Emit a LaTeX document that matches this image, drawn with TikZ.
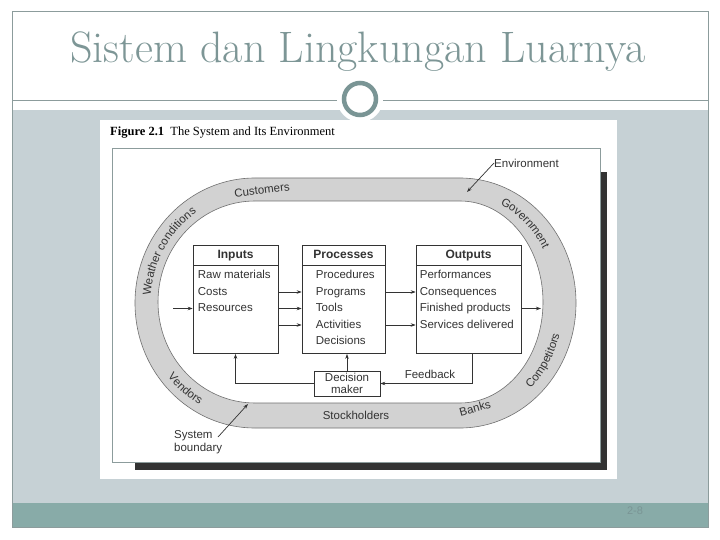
\documentclass[tikz,border=0pt]{standalone}
\usepackage{fontspec}
\usepackage{xcolor}
\usepackage{tikz}
\usetikzlibrary{arrows.meta, positioning, calc, decorations.text}
\newfontfamily\figsans{Liberation Sans}
\newfontfamily\figserif{Liberation Serif}
\definecolor{titlegray}{HTML}{7D9696}
\definecolor{framegray}{HTML}{8C9C9C}
\definecolor{slidegray}{HTML}{C6D1D5}
\definecolor{slideteal}{HTML}{88ABA8}
\definecolor{ringteal}{HTML}{7A9595}
\definecolor{ringfill}{HTML}{D2D2D2}
\definecolor{ink}{HTML}{333333}
\newcommand{\lblfont}{\figsans\fontsize{11.5}{13}\selectfont}

\begin{document}
\begin{tikzpicture}[x=1pt, y=-1pt,
  hdr/.style={draw=ink, line width=0.6pt, fill=white, minimum height=20pt,
              text height=9pt, text depth=2.5pt,
              inner sep=0pt, font=\figsans\fontsize{12}{14}\selectfont\bfseries, text=ink},
  bdy/.style={draw=ink, line width=0.6pt, fill=white, minimum height=88pt,
              inner sep=0pt, anchor=north},
  itm/.style={anchor=north west, align=left, inner sep=0pt, text=ink,
              font=\figsans\fontsize{11.5}{16.5}\selectfont},
  ringlbl/.style={font=\lblfont, text=ink, inner sep=0pt},
  curvelbl/.style={decorate, decoration={text along path, text align=center,
              text color=ink}},
  flow/.style={->, draw=ink, line width=0.7pt},
  >={Stealth[length=5pt, width=3.5pt]}]
\useasboundingbox (0,0) rectangle (720,540);
\fill[white] (0,0) rectangle (720,540);

% slide frame
\fill[slidegray] (12,110) rectangle (708,503);
\fill[slideteal] (12,503) rectangle (708,527);
\draw[framegray, line width=1pt] (12,12) rectangle (708,527);
\draw[framegray, line width=0.8pt] (12,100) -- (708,100);
\fill[white] (360,99) circle[radius=23];
\draw[ringteal, line width=4.5pt, fill=white] (360,99) circle[radius=16];
\node[text=titlegray, font=\fontsize{44}{50}\selectfont] (title) at (358,52)
  {Sistem dan Lingkungan Luarnya};
\node[text=ringteal, font=\figsans\fontsize{11}{13}\selectfont] (pagenum) at (635,511) {2-8};

% figure
\fill[white] (100,120) rectangle (617,479);
\node[anchor=west, inner sep=0pt, font=\figserif\fontsize{12.5}{14}\selectfont] (caption)
  at (110,133) {\textbf{Figure 2.1}\ \ The System and Its Environment};
\fill[ink] (601,172) rectangle (607,470);
\fill[ink] (135,463) rectangle (607,470);
\draw[framegray, line width=0.8pt] (112,148) rectangle (600,462);

% environment ring
\path[draw=ink!70, line width=0.6pt, fill=ringfill, even odd rule]
  (255,178) -- (460,178) arc[start angle=-90, end angle=90, x radius=116, y radius=125]
  -- (255,428) arc[start angle=90, end angle=270, x radius=120, y radius=125] -- cycle
  (255,201) -- (460,201) arc[start angle=-90, end angle=90, x radius=83, y radius=101]
  -- (255,403) arc[start angle=90, end angle=270, x radius=97, y radius=101] -- cycle;

\node[ringlbl, rotate=7]   (cust) at (262,190) {Customers};
\path[curvelbl, decoration={text={|\lblfont|Weather conditions}}]
  (255,303) ++(175:104.5 and 109) arc[start angle=175, end angle=245, x radius=104.5, y radius=109];
\path[curvelbl, decoration={text={|\lblfont|Government}}]
  (460,303) ++(-80:95.5 and 109) arc[start angle=-80, end angle=-16, x radius=95.5, y radius=109];
\path[curvelbl, decoration={text={|\lblfont|Competitors}}]
  (460,303) ++(64:103.5 and 117) arc[start angle=64, end angle=0, x radius=103.5, y radius=117];
\path[curvelbl, decoration={text={|\lblfont|Vendors}}]
  (255,303) ++(160:112.5 and 117) arc[start angle=160, end angle=100, x radius=112.5, y radius=117];
\node[ringlbl]             (stock) at (356,415) {Stockholders};
\node[ringlbl, rotate=15]  (bank) at (475,408) {Banks};

\node[ringlbl, anchor=west] (env) at (494,163) {Environment};
\coordinate (envtip) at (467,192);
\draw[flow] (env.west) -- (envtip);

\node[ringlbl, anchor=west, align=left] (sysb) at (174,442) {System\\boundary};
\coordinate (sbfoot) at (218,437);
\coordinate (sbtip) at (248,404);
\draw[flow] (sbfoot) -- (sbtip);

% system boxes
\node[hdr, minimum width=85pt]  (in)  at (235.5,255) {Inputs};
\node[bdy, minimum width=85pt]  (inb) at (in.south) {};
\node[itm] (init) at ([xshift=5pt, yshift=-5pt]inb.north west)
  {Raw materials\\Costs\\Resources};

\node[hdr, minimum width=83pt]  (pr)  at (343.5,255) {Processes};
\node[bdy, minimum width=83pt]  (prb) at (pr.south) {};
\node[itm] (prit) at ([xshift=14pt, yshift=-5pt]prb.north west)
  {Procedures\\Programs\\Tools\\Activities\\Decisions};

\node[hdr, minimum width=105pt] (out)  at (468.5,255) {Outputs};
\node[bdy, minimum width=105pt] (outb) at (out.south) {};
\node[itm] (outit) at ([xshift=4pt, yshift=-5pt]outb.north west)
  {Performances\\Consequences\\Finished products\\Services delivered};

\node[draw=ink, line width=0.6pt, fill=white, minimum width=66pt, minimum height=25pt,
      inner sep=0pt, align=center, text=ink, font=\figsans\fontsize{11.5}{12}\selectfont]
  (dm) at (347,383.5) {Decision\\maker};

% flows
\coordinate (feed) at (173,308.5);
\draw[flow] (feed) -- (inb.west |- feed);
\foreach \yy in {292,308.5,325}
  \draw[flow] (inb.east |- 0,\yy) -- (prb.west |- 0,\yy);
\foreach \yy in {292,325}
  \draw[flow] (prb.east |- 0,\yy) -- (outb.west |- 0,\yy);
\coordinate (outtip) at (541,308.5);
\draw[flow] (outb.east |- outtip) -- (outtip);
\draw[flow] ([xshift=3.5pt]outb.south) |- (dm.east);
\node[ringlbl] (fb) at (430,374) {Feedback};
\draw[flow] (dm.north) -- (dm.north |- prb.south);
\draw[flow] (dm.west) -| (inb.south);
\end{tikzpicture}
\end{document}
